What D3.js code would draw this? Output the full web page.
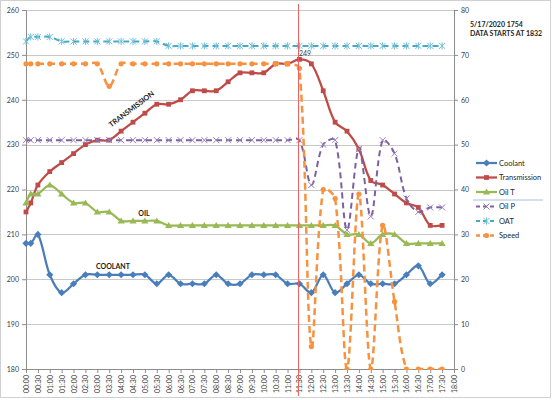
<!DOCTYPE html>
<html><head><meta charset="utf-8">
<script src="https://cdn.jsdelivr.net/npm/d3@7"></script>
<style>body{margin:0;background:#fff}svg{display:block;font-family:Lato,"Open Sans",sans-serif}</style>
</head><body><svg id="c" width="552" height="400"></svg>
<script>
// ---- data ----
const times = ["00:00","00:12","00:30","01:00","01:30","02:00","02:30","03:00","03:30","04:00","04:30","05:00","05:30","06:00","06:30","07:00","07:30","08:00","08:30","09:00","09:30","10:00","10:30","11:00","11:30","12:00","12:30","13:00","13:30","14:00","14:30","15:00","15:30","16:00","16:30","17:00","17:30"];
const coolant = [208,208,210,201,197,199,201,201,201,201,201,201,199,201,199,199,199,201,199,199,201,201,201,199,199,197,201,197,199,201,199,199,199,201,203,199,201];
const transmission = [215,217,221,224,226,228,230,231,231,233,235,237,239,239,240,242,242,242,244,246,246,246,248,248,249,248,242,235,233,229,222,221,219,217,216,212,212];
const oilT = [217,219,219,221,219,217,217,215,215,213,213,213,213,212,212,212,212,212,212,212,212,212,212,212,212,212,212,212,210,210,208,210,210,208,208,208,208];
const oilP = [51,51,51,51,51,51,51,51,51,51,51,51,51,51,51,51,51,51,51,51,51,51,51,51,51,41,50,51,31,49,34,51,48,38,35,36,36];
const oat = [73,74,74,74,73,73,73,73,73,73,73,73,73,72,72,72,72,72,72,72,72,72,72,72,72,72,72,72,72,72,72,72,72,72,72,72,72];
const speed = [68,68,68,68,68,68,68,68,63,68,68,68,68,68,68,68,68,68,68,68,68,68,68,68,67,5,40,38,0,39,0,32,15,0,0,0,0];
const xTickLabels = ["00:00","00:30","01:00","01:30","02:00","02:30","03:00","03:30","04:00","04:30","05:00","05:30","06:00","06:30","07:00","07:30","08:00","08:30","09:00","09:30","10:00","10:30","11:00","11:30","12:00","12:30","13:00","13:30","14:00","14:30","15:00","15:30","16:00","16:30","17:00","17:30","18:00"];
const leftTicks = [180,190,200,210,220,230,240,250,260];
const rightTicks = [0,10,20,30,40,50,60,70,80];
const markerTime = "11:30";
const markerLabel = "249";
const noteLines = ["5/17/2020 1754","DATA STARTS AT 1832"];

// ---- layout ----
const L = 26, R = 454, T = 10, B = 369;
const toMin = s => { const [h,m] = s.split(":").map(Number); return h*60+m; };
const x = d3.scaleLinear().domain([0, toMin("18:00")]).range([L, R]);
const yL = d3.scaleLinear().domain([180, 260]).range([B, T]);
const yR = d3.scaleLinear().domain([0, 80]).range([B, T]);

const svg = d3.select("#c");
svg.append("rect").attr("x",0.5).attr("y",0.5).attr("width",550).attr("height",397)
  .attr("fill","#fff").attr("stroke","#d0d0d0");

// gridlines
svg.append("g").selectAll("line").data(leftTicks.slice(1)).join("line")
  .attr("x1",L).attr("x2",R).attr("y1",d=>Math.round(yL(d))+0.5).attr("y2",d=>Math.round(yL(d))+0.5)
  .attr("stroke","#c8c8c8").attr("stroke-width",1);

// axes
const axColor = "#8c8c8c", txtColor = "#404040";
const gl = svg.append("g").attr("transform",`translate(${L},0)`)
  .call(d3.axisLeft(yL).tickValues(leftTicks).tickSize(4).tickPadding(3));
const gr = svg.append("g").attr("transform",`translate(${R},0)`)
  .call(d3.axisRight(yR).tickValues(rightTicks).tickSize(4).tickPadding(3));
const gx = svg.append("g").attr("transform",`translate(0,${B})`)
  .call(d3.axisBottom(x).tickValues(xTickLabels.map(toMin)).tickFormat((d,i)=>xTickLabels[i]).tickSize(4));
[gl,gr,gx].forEach(g=>{
  g.select(".domain").attr("stroke",axColor);
  g.selectAll(".tick line").attr("stroke",axColor);
  g.selectAll("text").attr("fill",txtColor).attr("font-size","7px").attr("font-family","Lato, sans-serif");
});
gx.selectAll("text").attr("text-anchor","end").attr("transform","rotate(-90)")
  .attr("x",-6).attr("y",0).attr("dy","0.35em");

// series
const series = [
  {name:"Coolant", values:coolant, y:yL, color:"#4A7EBB", dash:null, marker:"diamond", w:2.25},
  {name:"Transmission", values:transmission, y:yL, color:"#BE4B48", dash:null, marker:"square", w:2.25},
  {name:"Oil T", values:oilT, y:yL, color:"#98B954", dash:null, marker:"triangle", w:2.25},
  {name:"Oil P", values:oilP, y:yR, color:"#7D60A0", dash:"6,4", marker:"x", w:2},
  {name:"OAT", values:oat, y:yR, color:"#46AAC5", dash:"6,4", marker:"star", w:2},
  {name:"Speed", values:speed, y:yR, color:"#F69240", dash:"7,4", marker:"circle", w:2.5}
];

svg.append("defs").append("clipPath").attr("id","pa").append("rect")
  .attr("x",L-4).attr("y",T-4).attr("width",R-L+8).attr("height",B-T+5);

function drawMarker(g, type, color){
  if(type==="diamond") g.append("path").attr("d","M0,-3.6L3.6,0L0,3.6L-3.6,0Z").attr("fill",color);
  else if(type==="square") g.append("rect").attr("x",-2.4).attr("y",-2.4).attr("width",4.8).attr("height",4.8).attr("fill",color);
  else if(type==="triangle") g.append("path").attr("d","M0,-3.4L3.6,2.6L-3.6,2.6Z").attr("fill",color);
  else if(type==="x") g.append("path").attr("d","M-3,-3L3,3M-3,3L3,-3").attr("stroke",color).attr("stroke-width",1).attr("fill","none");
  else if(type==="star") g.append("path").attr("d","M-3,-3L3,3M-3,3L3,-3M0,-3.6L0,3.6").attr("stroke",color).attr("stroke-width",1).attr("fill","none");
  else if(type==="circle") g.append("circle").attr("r",2.6).attr("fill",color);
}

// spreadsheet-style smoothing: Bezier with distance-weighted tangents
function smoothPath(pts){
  const p = d3.path();
  const n = pts.length;
  p.moveTo(pts[0][0], pts[0][1]);
  const dist = (a,b)=>Math.hypot(b[0]-a[0], b[1]-a[1]);
  for(let i=0;i<n-1;i++){
    const P0 = pts[i-1]||pts[i], P1 = pts[i], P2 = pts[i+1], P3 = pts[i+2]||pts[i+1];
    const a1 = dist(P0,P1), b1 = dist(P1,P2);
    const a2 = dist(P1,P2), b2 = dist(P2,P3);
    const f1 = (a1+b1)>0 ? b1/(a1+b1)/3 : 0;
    const f2 = (a2+b2)>0 ? a2/(a2+b2)/3 : 0;
    const c1 = [P1[0]+(P2[0]-P0[0])*f1, P1[1]+(P2[1]-P0[1])*f1];
    const c2 = [P2[0]-(P3[0]-P1[0])*f2, P2[1]-(P3[1]-P1[1])*f2];
    p.bezierCurveTo(c1[0],c1[1],c2[0],c2[1],P2[0],P2[1]);
  }
  return p.toString();
}

const plot = svg.append("g").attr("clip-path","url(#pa)");
series.forEach(s=>{
  const pts = times.map((t,i)=>[x(toMin(t)), s.y(s.values[i])]);
  const g = plot.append("g");
  g.append("path").attr("d",smoothPath(pts)).attr("fill","none").attr("stroke",s.color)
    .attr("stroke-width",s.w).attr("stroke-dasharray",s.dash).attr("stroke-linejoin","round");
  pts.forEach(p=>{
    const m = g.append("g").attr("transform",`translate(${p[0]},${p[1]})`);
    drawMarker(m, s.marker, s.marker==="x"?"#9A82BA":(s.marker==="star"?"#6FBFD6":s.color));
  });
});

// red vertical marker line
const xm = Math.round(x(toMin(markerTime))) - 0.5;
svg.append("line").attr("x1",xm).attr("x2",xm).attr("y1",4).attr("y2",396)
  .attr("stroke","#F26060").attr("stroke-width",1);
svg.append("text").attr("x",xm+0.5).attr("y",yL(transmission[times.indexOf(markerTime)])-3.5)
  .attr("font-size","7px").attr("fill","#404040").text(markerLabel);

// annotations
svg.append("text").attr("transform","translate(133,111) rotate(-37)").attr("text-anchor","middle")
  .attr("font-size","7.3px").attr("font-weight","bold").attr("fill","#1a1a1a").text("TRANSMISSION");
svg.append("text").attr("x",144).attr("y",216).attr("text-anchor","middle")
  .attr("font-size","7px").attr("font-weight","bold").attr("fill","#1a1a1a").text("OIL");
svg.append("text").attr("x",113).attr("y",269).attr("text-anchor","middle")
  .attr("font-size","7px").attr("font-weight","bold").attr("fill","#1a1a1a").text("COOLANT");
noteLines.forEach((t,i)=>{
  svg.append("text").attr("x",470).attr("y",27+i*9).attr("font-size","7px")
    .attr("font-weight","bold").attr("fill","#262626").text(t);
});

// legend
const legY = [163,177.5,192,206.5,221,235.5];
const lg = svg.append("g");
series.forEach((s,i)=>{
  const g = lg.append("g").attr("transform",`translate(476,${legY[i]})`);
  g.append("line").attr("x1",0).attr("x2",21).attr("stroke",s.color).attr("stroke-width",s.w)
    .attr("stroke-dasharray",s.dash?"4,3":null);
  const m = g.append("g").attr("transform","translate(10.5,0)");
  drawMarker(m, s.marker, s.marker==="x"?"#9A82BA":(s.marker==="star"?"#6FBFD6":s.color));
  g.append("text").attr("x",23).attr("dy","0.35em").attr("font-size","7.5px").attr("fill","#262626").text(s.name);
});
lg.append("line").attr("x1",473).attr("x2",543).attr("y1",200).attr("y2",200)
  .attr("stroke","#A7C0DE").attr("stroke-width",1);
</script></body></html>
